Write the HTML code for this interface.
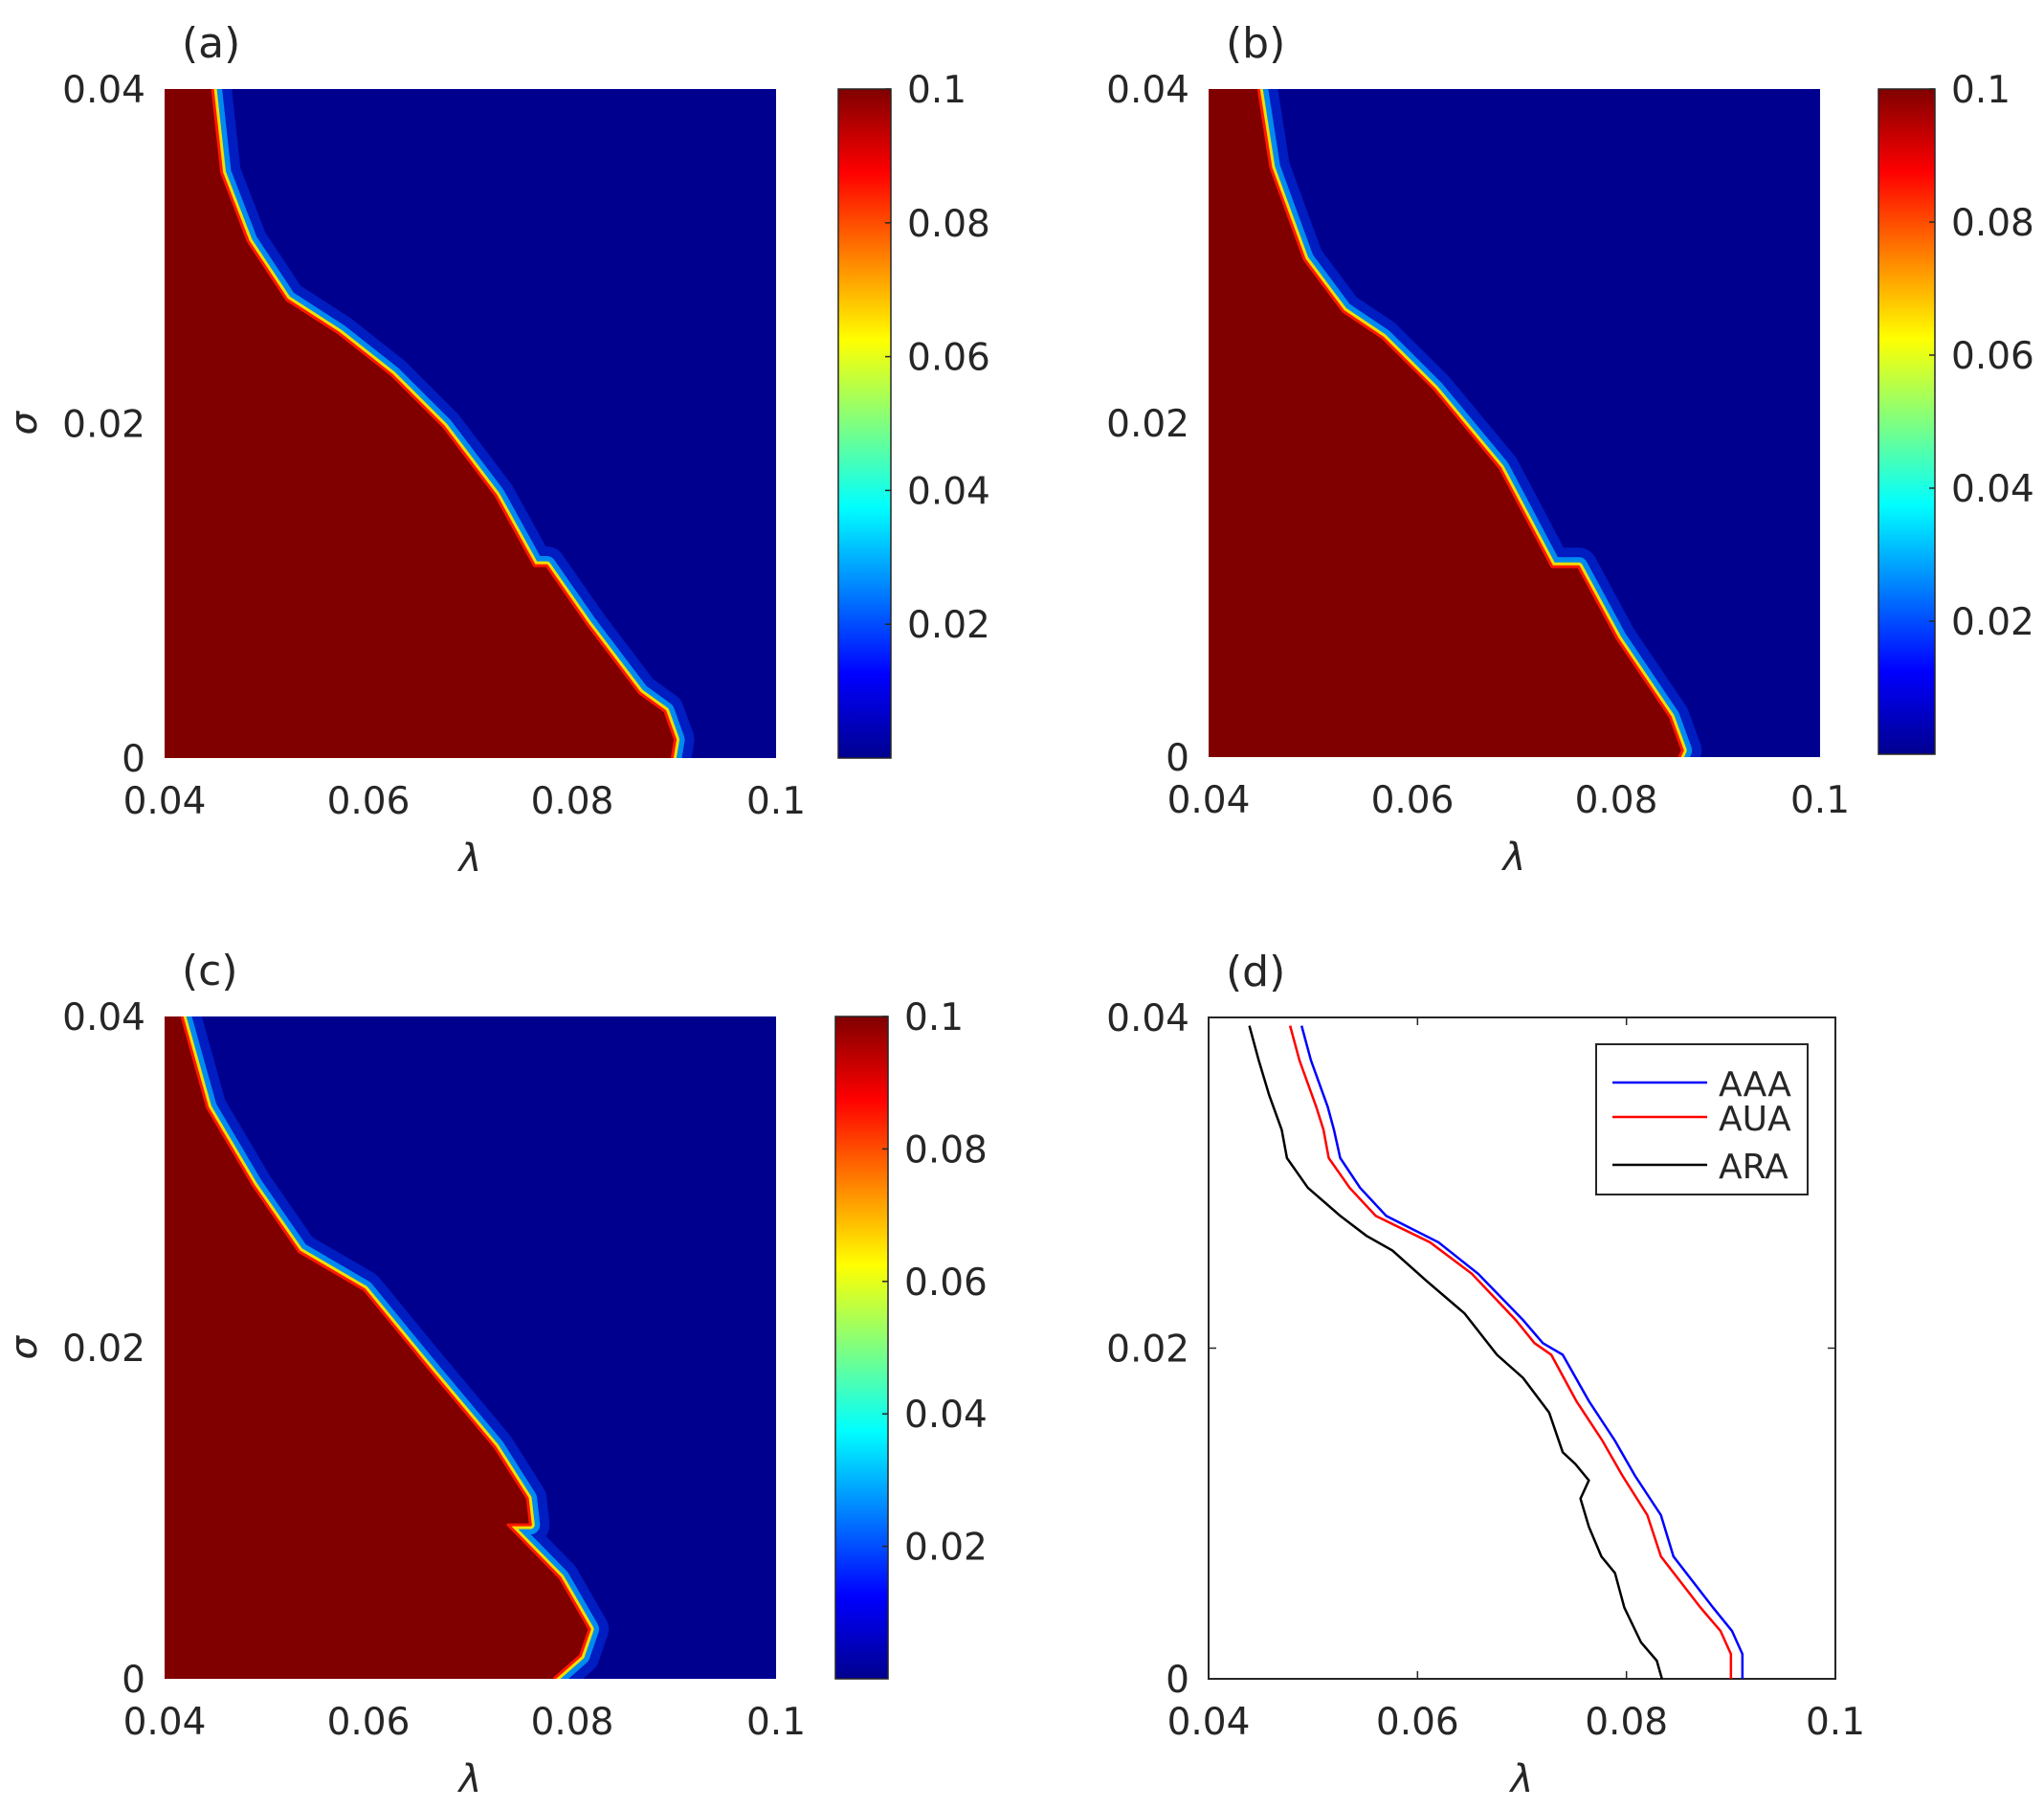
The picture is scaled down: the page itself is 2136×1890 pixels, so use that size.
<!DOCTYPE html>
<html><head><meta charset="utf-8"><style>
html,body{margin:0;padding:0;background:#fff}
svg{display:block}
text{font-family:"DejaVu Sans","Liberation Sans",sans-serif;fill:#262626}
</style></head><body>
<svg id="fig" width="2136" height="1890" viewBox="0 0 2136 1890" xmlns="http://www.w3.org/2000/svg">
<defs>
<linearGradient id="jet" x1="0" y1="1" x2="0" y2="0">
<stop offset="0" stop-color="#00008f"/><stop offset="0.125" stop-color="#0000ff"/>
<stop offset="0.375" stop-color="#00ffff"/><stop offset="0.625" stop-color="#ffff00"/>
<stop offset="0.875" stop-color="#ff0000"/><stop offset="1" stop-color="#800000"/>
</linearGradient>
</defs>
</svg>
<script>
// shared axis tick data
const xTicks=[0.04,0.06,0.08,0.1];
const xTickLabels=["0.04","0.06","0.08","0.1"];
const yTicks=[0,0.02,0.04];
const yTickLabels=["0","0.02","0.04"];
const cbTicks=[0.02,0.04,0.06,0.08,0.1];
const cbTickLabels=["0.02","0.04","0.06","0.08","0.1"];
// heatmap boundaries (lambda at each sigma)
const aSigma=[0.04,0.035,0.0309,0.0274,0.0254,0.0229,0.0198,0.0157,0.0115,0.0115,0.008,0.0039,0.0028,0.0011,0];
const aLambda=[0.0447,0.0456,0.0482,0.052,0.0571,0.0623,0.0674,0.0725,0.0763,0.0775,0.0815,0.0866,0.0891,0.0901,0.0898];
const bSigma=[0.04,0.0353,0.0298,0.0267,0.0251,0.022,0.0173,0.0114,0.0114,0.0071,0.0024,0.0004,0];
const bLambda=[0.0449,0.0461,0.0494,0.0532,0.0571,0.0622,0.0686,0.0737,0.0763,0.0801,0.0853,0.0865,0.0862];
const cSigma=[0.04,0.0345,0.0298,0.0258,0.0235,0.0187,0.014,0.0109,0.0093,0.0093,0.0061,0.003,0.0014,0];
const cLambda=[0.0417,0.0442,0.0487,0.0532,0.0596,0.066,0.0724,0.0756,0.0759,0.0737,0.0788,0.0817,0.0808,0.0782];
// panel d curves
const dSigma=[0.0395,0.0374,0.0346,0.0332,0.0315,0.0297,0.028,0.0264,0.0245,0.0217,0.0203,0.0196,0.0168,0.0144,0.0123,0.0099,0.0074,0.0043,0.0029,0.0015,0];
const aaaLambda=[0.0489,0.0498,0.0514,0.052,0.0526,0.0545,0.057,0.062,0.0658,0.0701,0.072,0.0739,0.0764,0.0789,0.0808,0.0833,0.0845,0.0883,0.0901,0.0911,0.0911];
const auaLambda=[0.0478,0.0487,0.0503,0.051,0.0515,0.0535,0.056,0.0612,0.0652,0.0694,0.0712,0.0728,0.0752,0.0777,0.0796,0.082,0.0833,0.0871,0.089,0.09,0.09];
const araSigma=[0.0395,0.0374,0.0353,0.0332,0.0315,0.0297,0.028,0.0268,0.0259,0.0241,0.0221,0.0196,0.0182,0.0161,0.0137,0.013,0.012,0.0109,0.0092,0.0074,0.0064,0.0043,0.0022,0.0011,0];
const araLambda=[0.0439,0.0448,0.0458,0.047,0.0475,0.0495,0.0526,0.0551,0.0576,0.0608,0.0645,0.0676,0.0701,0.0726,0.0739,0.0751,0.0764,0.0756,0.0764,0.0776,0.0789,0.0798,0.0814,0.0829,0.0834];

const NS="http://www.w3.org/2000/svg";
const svg=document.getElementById('fig');
function mk(tag,attrs,parent){const e=document.createElementNS(NS,tag);for(const k in attrs)e.setAttribute(k,attrs[k]);(parent||svg).appendChild(e);return e;}
function txt(s,attrs){const e=mk('text',attrs);e.textContent=s;return e;}

function axes(P){
  const sx=v=>P.x0+(v-0.04)/0.06*(P.x1-P.x0);
  const sy=v=>P.y1-(v/0.04)*(P.y1-P.y0);
  return {sx,sy};
}
function frameLabels(P,name,sx,sy,boxed){
  xTicks.forEach((t,i)=>{
    const e=txt(xTickLabels[i],{x:sx(t),y:P.y1+58,'font-size':39,'text-anchor':'middle'});
    
    
    if(boxed){
      mk('line',{x1:sx(t),x2:sx(t),y1:P.y1,y2:P.y1-8,stroke:'#262626','stroke-width':1.5});
      mk('line',{x1:sx(t),x2:sx(t),y1:P.y0,y2:P.y0+8,stroke:'#262626','stroke-width':1.5});
    }
  });
  yTicks.forEach((t,i)=>{
    const e=txt(yTickLabels[i],{x:P.x0-20,y:sy(t)+14,'font-size':39,'text-anchor':'end'});
    
    
    if(boxed){
      mk('line',{x1:P.x0,x2:P.x0+8,y1:sy(t),y2:sy(t),stroke:'#262626','stroke-width':1.5});
      mk('line',{x1:P.x1,x2:P.x1-8,y1:sy(t),y2:sy(t),stroke:'#262626','stroke-width':1.5});
    }
  });
  const xl=txt('λ',{x:(P.x0+P.x1)/2,y:P.y1+118,'font-size':40,'font-style':'italic','text-anchor':'middle'});
  
  
  const cy=(P.y0+P.y1)/2;
  const yl=txt('σ',{x:0,y:0,'font-size':38,'font-style':'italic','text-anchor':'middle',transform:`translate(38,${cy}) rotate(-90)`});
  
  
  const tl=txt(name,{x:P.x0+18,y:P.y0-33,'font-size':44});
  
  
}
function heat(P,sig,lam,name,cb){
  const {sx,sy}=axes(P);
  const id=name.replace(/[()]/g,'');
  const g=mk('g',{});
  
  
  const cp=mk('clipPath',{id:'clip'+id},svg);
  mk('rect',{x:P.x0,y:P.y0,width:P.x1-P.x0,height:P.y1-P.y0},cp);
  g.setAttribute('clip-path',`url(#clip${id})`);
  mk('rect',{x:P.x0,y:P.y0,width:P.x1-P.x0,height:P.y1-P.y0,fill:'#00008f'},g);
  const pts=sig.map((s,i)=>`${sx(lam[i])},${sy(s)}`).join(' ');
  mk('polyline',{points:pts,fill:'none',stroke:'#0040ff','stroke-width':40,'stroke-opacity':0.45,'stroke-linejoin':'round'},g);
  mk('polyline',{points:pts,fill:'none',stroke:'#00b0ff','stroke-width':20,'stroke-opacity':0.75,'stroke-linejoin':'round'},g);
  mk('polyline',{points:pts,fill:'none',stroke:'#f0e000','stroke-width':9,'stroke-linejoin':'round'},g);
  const poly=`${P.x0-2},${sy(sig[0])} `+pts+` ${P.x0-2},${P.y1+2}`;
  const r=mk('polygon',{points:poly,fill:'#800000'},g);
  
  
  mk('polyline',{points:pts,fill:'none',stroke:'#ff1800','stroke-width':3,'stroke-linejoin':'round'},g);
  frameLabels(P,name,sx,sy,false);
  // colorbar
  const c=mk('rect',{x:cb.x0,y:cb.y0,width:cb.x1-cb.x0,height:cb.y1-cb.y0,fill:'url(#jet)',stroke:'#262626','stroke-width':1.5});
  
  
  cbTicks.forEach((t,i)=>{
    const y=cb.y1-t/0.1*(cb.y1-cb.y0);
    mk('line',{x1:cb.x1,x2:cb.x1-6,y1:y,y2:y,stroke:'#262626','stroke-width':1.5});
    const e=txt(cbTickLabels[i],{x:cb.x1+17,y:y+14,'font-size':39});
    
    
  });
}
heat({x0:172,x1:811,y0:93,y1:792},aSigma,aLambda,'(a)',{x0:876,x1:931,y0:93,y1:792});
heat({x0:1263,x1:1902,y0:93,y1:791},bSigma,bLambda,'(b)',{x0:1963,x1:2022,y0:93,y1:788});
heat({x0:172,x1:811,y0:1062,y1:1754},cSigma,cLambda,'(c)',{x0:873,x1:928,y0:1062,y1:1754});

// panel d
const PD={x0:1263,x1:1918,y0:1063,y1:1754};
const D=axes(PD);
const fr=mk('rect',{x:PD.x0,y:PD.y0,width:PD.x1-PD.x0,height:PD.y1-PD.y0,fill:'#fff',stroke:'#262626','stroke-width':2});


frameLabels(PD,'(d)',D.sx,D.sy,true);
function curve(sig,lam,color,name){
  const e=mk('polyline',{points:sig.map((s,i)=>`${D.sx(lam[i])},${D.sy(s)}`).join(' '),fill:'none',stroke:color,'stroke-width':2.5});
  
  
}
curve(dSigma,aaaLambda,'#0000ff','line-aaa');
curve(dSigma,auaLambda,'#ff0000','line-aua');
curve(araSigma,araLambda,'#000000','line-ara');
const lg=mk('rect',{x:1668,y:1091,width:221,height:157,fill:'#fff',stroke:'#262626','stroke-width':2});


const legNames=["AAA","AUA","ARA"];
const legColors=["#0000ff","#ff0000","#000000"];
const legY=[1131,1167,1217];
legNames.forEach((n,i)=>{
  const l=mk('line',{x1:1685,x2:1784,y1:legY[i],y2:legY[i],stroke:legColors[i],'stroke-width':2.5});
  
  
  const t=txt(n,{x:1796,y:legY[i]+14,'font-size':36});
  
  
});
</script>
</body></html>
